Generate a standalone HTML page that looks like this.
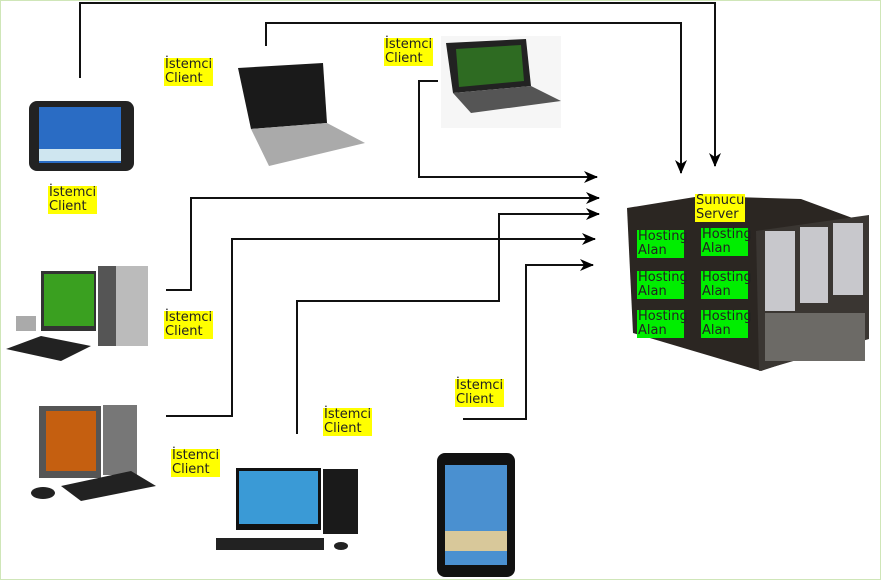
<!DOCTYPE html>
<html><head><meta charset="utf-8"><style>
html,body{margin:0;padding:0;background:#fff}
.w{position:relative;width:879px;height:578px;border:1px solid #cfe6b8;overflow:hidden;background:#fff}
.l{position:absolute;background:#ffff00;font:13px/14px "DejaVu Sans","Liberation Sans",sans-serif;color:#222;padding:0 1px}
.g{position:absolute;background:#00ee00;font:13px/14px "DejaVu Sans","Liberation Sans",sans-serif;color:#222;width:45px;padding:0 1px}
svg{position:absolute;left:0;top:0}
</style></head><body><div class="w">
<svg width="881" height="580" viewBox="0 0 881 580">
<defs><marker id="a" markerWidth="14" markerHeight="12" refX="13" refY="6" orient="auto" markerUnits="userSpaceOnUse"><path d="M0,0 L14,6 L0,12 L4,6 z" fill="#000"/></marker></defs>
<g fill="none" stroke="#111" stroke-width="2">
<path d="M79,77 V2 H714 V165" marker-end="url(#a)"/>
<path d="M265,45 V22 H680 V172" marker-end="url(#a)"/>
<path d="M437,80 H418 V176 H596" marker-end="url(#a)"/>
<path d="M165,289 H190 V197 H598" marker-end="url(#a)"/>
<path d="M296,433 V300 H498 V213 H598" marker-end="url(#a)"/>
<path d="M165,415 H231 V238 H594" marker-end="url(#a)"/>
<path d="M462,418 H525 V264 H592" marker-end="url(#a)"/>
</g>
<rect x="28" y="100" width="105" height="70" rx="8" fill="#222"/>
<rect x="38" y="106" width="82" height="56" fill="#2a6cc4"/>
<rect x="38" y="148" width="82" height="12" fill="#cfe6f0"/>
<polygon points="237,67 322,62 326,122 250,128" fill="#1a1a1a"/>
<polygon points="250,128 326,122 364,142 268,165" fill="#aaa"/>
<rect x="440" y="35" width="120" height="92" fill="#f6f6f6"/>
<polygon points="445,42 525,38 530,85 452,92" fill="#222"/>
<polygon points="455,48 520,44 523,80 458,86" fill="#2e6b22"/>
<polygon points="452,92 530,85 560,100 470,112" fill="#555"/>
<rect x="40" y="270" width="55" height="60" fill="#333"/>
<rect x="43" y="273" width="50" height="52" fill="#3aa020"/>
<rect x="97" y="265" width="50" height="80" fill="#bbb"/>
<rect x="97" y="265" width="18" height="80" fill="#555"/>
<polygon points="5,348 40,335 90,345 60,360" fill="#222"/>
<rect x="15" y="315" width="20" height="15" fill="#aaa"/>
<rect x="38" y="405" width="62" height="72" fill="#555"/>
<rect x="45" y="410" width="50" height="60" fill="#c55f10"/>
<rect x="102" y="404" width="34" height="70" fill="#777"/>
<polygon points="60,485 130,470 155,485 80,500" fill="#222"/>
<ellipse cx="42" cy="492" rx="12" ry="6" fill="#222"/>
<rect x="235" y="467" width="85" height="62" fill="#111"/>
<rect x="238" y="470" width="79" height="53" fill="#3a9ad6"/>
<rect x="322" y="468" width="35" height="65" fill="#1a1a1a"/>
<rect x="215" y="537" width="108" height="12" fill="#222"/>
<ellipse cx="340" cy="545" rx="7" ry="4" fill="#222"/>
<rect x="436" y="452" width="78" height="124" rx="8" fill="#111"/>
<rect x="444" y="464" width="62" height="100" fill="#4a90d0"/>
<rect x="444" y="530" width="62" height="20" fill="#d8c89a"/>
<polygon points="626,207 700,195 800,198 865,222 866,335 760,370 632,332" fill="#2b2622"/>
<polygon points="755,230 868,214 868,338 758,370" fill="#3a3632"/>
<rect x="764" y="230" width="30" height="80" fill="#c8c8cc"/>
<rect x="799" y="226" width="28" height="76" fill="#c8c8cc"/>
<rect x="832" y="222" width="30" height="72" fill="#c8c8cc"/>
<rect x="764" y="312" width="100" height="48" fill="#6c6a66"/>
</svg>
<div class="l" style="left:163px;top:57px">İstemci<br>Client</div>
<div class="l" style="left:383px;top:37px">İstemci<br>Client</div>
<div class="l" style="left:47px;top:185px">İstemci<br>Client</div>
<div class="l" style="left:163px;top:310px">İstemci<br>Client</div>
<div class="l" style="left:170px;top:448px">İstemci<br>Client</div>
<div class="l" style="left:322px;top:407px">İstemci<br>Client</div>
<div class="l" style="left:454px;top:378px">İstemci<br>Client</div>
<div class="l" style="left:694px;top:193px">Sunucu<br>Server</div>
<div class="g" style="left:636px;top:229px">Hosting<br>Alan</div>
<div class="g" style="left:700px;top:227px">Hosting<br>Alan</div>
<div class="g" style="left:636px;top:270px">Hosting<br>Alan</div>
<div class="g" style="left:700px;top:270px">Hosting<br>Alan</div>
<div class="g" style="left:636px;top:309px">Hosting<br>Alan</div>
<div class="g" style="left:700px;top:309px">Hosting<br>Alan</div>
</div></body></html>
